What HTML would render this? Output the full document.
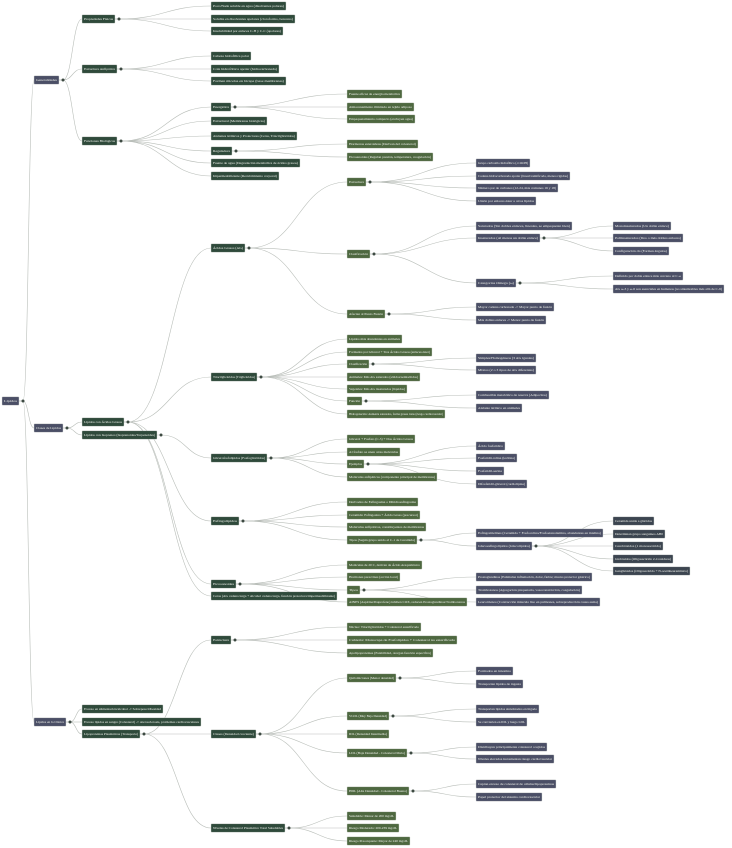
<!DOCTYPE html>
<html><head><meta charset="utf-8">
<style>
html,body{margin:0;padding:0;background:#fff;width:732px;height:848px;overflow:hidden}
svg{display:block}
text{font-family:"Liberation Serif",serif;font-size:3.4px;fill:#eef0ea}
</style></head>
<body>
<svg id="s" width="732" height="848" viewBox="0 0 732 848" xmlns="http://www.w3.org/2000/svg">
<g id="e"></g><g id="n"></g>
</svg>
<script>
const C={s:"#4b4f66",d:"#2f4a3b",o:"#4e6840",g:"#3c4550"};
const D=[
["root",null,2,401,17,"s","Lípidos"],
["gen","root",34,80,25,"s","Generalidades"],
["pf","gen",82,19,33,"d","Propiedades Físicas"],
[0,"pf",211,6,75,"d","Poco/Nada soluble en agua (disolventes polares)"],
[0,"pf",211,19,84,"d","Soluble en disolventes apolares (cloroformo, benceno)"],
[0,"pf",211,31,72,"d","Insolubilidad por enlaces C-H y C-C (apolares)"],
["ea","gen",82,69,35,"d","Estructura Anfipática"],
[0,"ea",211,56,40,"d","Cabeza hidrofílica polar"],
[0,"ea",211,69,68,"d","Cola hidrofóbica apolar (hidrocarbonada)"],
[0,"ea",211,81,75,"d","Forman micelas en bicapa (base membranas)"],
["fb","gen",82,141,35,"d","Funciones Biológicas"],
["en","fb",211,107,20,"d","Energética"],
[0,"en",347,94,55,"o","Fuente eficaz de energía metabólica"],
[0,"en",347,107,67,"o","Almacenamiento ilimitado en tejido adiposo"],
[0,"en",347,119,68,"o","Empaquetamiento compacto (excluyen agua)"],
[0,"fb",211,121,56,"d","Estructural (Membranas biológicas)"],
[0,"fb",211,136,86,"d","Aislantes térmicos y Protectores (Ceras, Triacilglicéridos)"],
["reg","fb",211,151,21,"d","Reguladora"],
[0,"reg",347,144,71,"o","Hormonas esteroideas (Derivan del colesterol)"],
[0,"reg",347,157,86,"o","Eicosanoides (Regulan presión, temperatura, coagulación)"],
[0,"fb",211,163,89,"d","Fuente de agua (Degradación metabólica de ácidos grasos)"],
[0,"fb",211,176,68,"d","Impermeabilizante (Recubrimiento corporal)"],
["cl","root",34,428,29,"s","Clases de Lípidos"],
["cag","cl",82,422,42,"d","Lípidos con Ácidos Grasos"],
["ciso","cl",82,435,75,"d","Lípidos con Isoprenos (Isoprenoides/Terpenoides)"],
["ag","cag",211,248,34,"d","Ácidos Grasos (AG)"],
["est","ag",347,182,19,"o","Estructura"],
[0,"est",476,163,54,"s","Grupo carboxilo hidrofílico (-COOH)"],
[0,"est",476,176,94,"s","Cadena hidrocarbonada apolar (lineal/ramificada, menos rígidas)"],
[0,"est",476,188,82,"s","Número par de carbonos (12-24, más comunes 16 y 18)"],
[0,"est",476,201,60,"s","Unión por enlaces éster a otros lípidos"],
["cla","ag",347,254,23,"o","Clasificación"],
[0,"cla",476,226,96,"s","Saturados (Sin dobles enlaces, lineales, se empaquetan bien)"],
["ins","cla",476,238,64,"s","Insaturados (Al menos un doble enlace)"],
[0,"ins",613,226,58,"s","Monoinsaturados (Un doble enlace)"],
[0,"ins",613,238,70,"s","Poliinsaturados (Dos o más dobles enlaces)"],
[0,"ins",613,251,56,"s","Configuración cis (Forman ángulos)"],
["ome","cla",476,283,40,"s","Categorías Omega (ω)"],
[0,"ome",613,276,70,"s","Definido por doble enlace más cercano al C ω"],
[0,"ome",613,289,111,"s","AG ω-3 y ω-6 son esenciales en humanos (no sintetizables más allá de C-9)"],
["apf","ag",347,314,38,"o","Afectan al Punto Fusión"],
[0,"apf",476,307,78,"s","Mayor cadena carbonada -> Mayor punto de fusión"],
[0,"apf",476,320,70,"s","Más dobles enlaces -> Menor punto de fusión"],
["tg","cag",211,377,46,"d","Triacilglicéridos (Triglicéridos)"],
[0,"tg",347,339,55,"o","Lípidos más abundantes en animales"],
[0,"tg",347,352,85,"o","Formados por Glicerol + Tres Ácidos Grasos (enlaces éster)"],
["tgc","tg",347,364,22,"o","Clasificación"],
[0,"tgc",476,358,60,"s","Simples/Homogéneos (3 AG iguales)"],
[0,"tgc",476,370,60,"s","Mixtos (2 o 3 tipos de AG diferentes)"],
[0,"tg",347,377,73,"o","Animales: Más AG saturados (sólidos/semisólidos)"],
[0,"tg",347,389,60,"o","Vegetales: Más AG insaturados (líquidos)"],
["tgf","tg",347,401,15,"o","Función"],
[0,"tgf",476,395,73,"s","Combustible metabólico de reserva (Adipocitos)"],
[0,"tgf",476,408,46,"s","Aislante térmico en animales"],
[0,"tg",347,414,98,"o","Hidrogenación: Aumenta saturados, forma grasas trans (riesgo cardiovascular)"],
["gf","ciso",211,458,56,"d","Glicerofosfolípidos (Fosfoglicéridos)"],
[0,"gf",347,439,68,"o","Glicerol + Fosfato (C-3) + Dos Ácidos Grasos"],
[0,"gf",347,452,53,"o","Al fosfato se unen otras moléculas"],
["gfe","gf",347,464,17,"o","Ejemplos"],
[0,"gfe",476,446,29,"s","Ácido fosfatídico"],
[0,"gfe",476,458,41,"s","Fosfatidil-colina (lecitina)"],
[0,"gfe",476,471,28,"s","Fosfatidil-serina"],
[0,"gfe",476,484,51,"s","Difosfatidil-glicerol (cardiolipina)"],
[0,"gf",347,477,90,"o","Moléculas anfipáticas (componente principal de membranas)"],
["es","cag",211,521,28,"d","Esfingolípidos"],
[0,"es",347,502,71,"o","Derivados de Esfingosina o Dihidroesfingosina"],
[0,"es",347,515,73,"o","Ceramida: Esfingosina + Ácido Graso (precursor)"],
[0,"es",347,527,79,"o","Moléculas anfipáticas, constituyentes de membranas"],
["est2","es",347,540,70,"o","Tipos (Según grupo unido al C-1 de Ceramida)"],
[0,"est2",476,533,127,"s","Esfingomielinas (Ceramida + Fosfocolina/Fosfoetanolamina, abundantes en mielina)"],
["glu","est2",476,546,56,"s","Glucoesfingolípidos (Glucolípidos)"],
[0,"glu",613,521,41,"g","Ceramida unida a glúcidos"],
[0,"glu",613,534,52,"g","Determinan grupo sanguíneo AB0"],
[0,"glu",613,546,50,"g","Cerebrósidos (1 monosacárido)"],
[0,"glu",613,559,60,"g","Globósidos (Oligosacárido 2-4 residuos)"],
[0,"glu",613,571,77,"g","Gangliósidos (Oligosacárido + N-acetilneuramínico)"],
["eic","cag",211,584,25,"d","Eicosanoides"],
[0,"eic",347,565,75,"o","Moléculas de 20 C, derivan de Ácido Araquidónico"],
[0,"eic",347,577,53,"o","Hormonas paracrinas (acción local)"],
["eit","eic",347,590,13,"o","Tipos"],
[0,"eit",476,577,116,"s","Prostaglandinas (Estimulan inflamación, dolor, fiebre; mucus protector gástrico)"],
[0,"eit",476,590,106,"s","Tromboxanos (Agregación plaquetaria, vasoconstricción, coagulación)"],
[0,"eit",476,602,124,"s","Leucotrienos (Contracción músculo liso en pulmones, sobreproducción causa asma)"],
[0,"eic",347,602,120,"o","AINES (Aspirina/Ibuprofeno) inhiben COX, reducen Prostaglandinas/Tromboxanos"],
[0,"cag",211,596,126,"d","Ceras (AG cadena larga + Alcohol cadena larga, función protectora/impermeabilizante)"],
["cli","root",34,722,32,"s","Lípidos en la Clínica"],
[0,"cli",82,709,81,"d","Exceso en alimentación/alcohol -> Sobrepeso/Obesidad"],
[0,"cli",82,722,119,"d","Exceso lípidos en sangre (Colesterol) -> Aterosclerosis, problemas cardiovasculares"],
["lp","cli",82,734,58,"d","Lipoproteínas Plasmáticas (Transporte)"],
["le","lp",211,640,20,"d","Estructura"],
[0,"le",347,627,74,"o","Núcleo: Triacilglicéridos + Colesterol esterificado"],
[0,"le",347,640,110,"o","Cubierta: Monocapa de Fosfolípidos + Colesterol no esterificado"],
[0,"le",347,653,86,"o","Apolipoproteínas (Estabilidad, otorgan función específica)"],
["lc","lp",211,734,45,"d","Clases (Densidad creciente)"],
["q","lc",347,678,49,"o","Quilomicrones (Menor densidad)"],
[0,"q",476,671,37,"s","Formados en intestino"],
[0,"q",476,684,47,"s","Transportan lípidos de ingesta"],
["v","lc",347,716,42,"o","VLDL (Muy Baja Densidad)"],
[0,"v",476,709,63,"s","Transportan lípidos sintetizados en hígado"],
[0,"v",476,722,51,"s","Se convierten en IDL y luego LDL"],
[0,"lc",347,734,42,"o","IDL (Densidad Intermedia)"],
["l","lc",347,753,60,"o","LDL (Baja Densidad - Colesterol Malo)"],
[0,"l",476,747,71,"s","Distribuyen principalmente colesterol a tejidos"],
[0,"l",476,759,78,"s","Niveles elevados incrementan riesgo cardiovascular"],
["h","lc",347,791,62,"o","HDL (Alta Densidad - Colesterol Bueno)"],
[0,"h",476,784,80,"s","Captan exceso de colesterol de células/lipoproteínas"],
[0,"h",476,797,66,"s","Papel protector del sistema cardiovascular"],
["nv","lp",211,828,74,"d","Niveles de Colesterol Plasmático Total Saludables"],
[0,"nv",347,816,49,"o","Saludable: Menor de 200 mg/dL"],
[0,"nv",347,828,52,"o","Riesgo Moderado: 200-239 mg/dL"],
[0,"nv",347,841,63,"o","Riesgo Preocupante: Mayor de 240 mg/dL"]
];
const NS="http://www.w3.org/2000/svg";
const byKey={},hasKids={};
D.forEach(d=>{if(d[0])byKey[d[0]]=d;if(d[1])hasKids[d[1]]=1;});
const E=document.getElementById("e"),G=document.getElementById("n");
function mk(t,a,p){const el=document.createElementNS(NS,t);for(const k in a)el.setAttribute(k,a[k]);p.appendChild(el);return el;}
D.forEach(d=>{
  if(!d[1])return;const p=byKey[d[1]];
  const sx=p[2]+p[4]+4,sy=p[3],ex=d[2],ey=d[3],m=(sx+ex)/2;
  mk("path",{d:`M${p[2]+p[4]},${sy}L${sx},${sy}C${m},${sy} ${m},${ey} ${ex},${ey}`,fill:"none",stroke:"#b9beb9","stroke-width":"0.6"},E);
});
D.forEach(d=>{
  const [k,pk,x,y,w,c,t]=d;
  mk("rect",{x:x,y:y-4.2,width:w,height:8.4,rx:0.8,fill:C[c],stroke:"#d6d9d4","stroke-width":"0.4"},G);
  const tx=mk("text",{x:x+2,y:y+1.2,textLength:Math.max(4,w-4),lengthAdjust:"spacingAndGlyphs"},G);
  tx.textContent=t;
  if(k&&hasKids[k])mk("circle",{cx:x+w+4,cy:y,r:1.5,fill:"#3d4a42"},G);
});
</script>
</body></html>
